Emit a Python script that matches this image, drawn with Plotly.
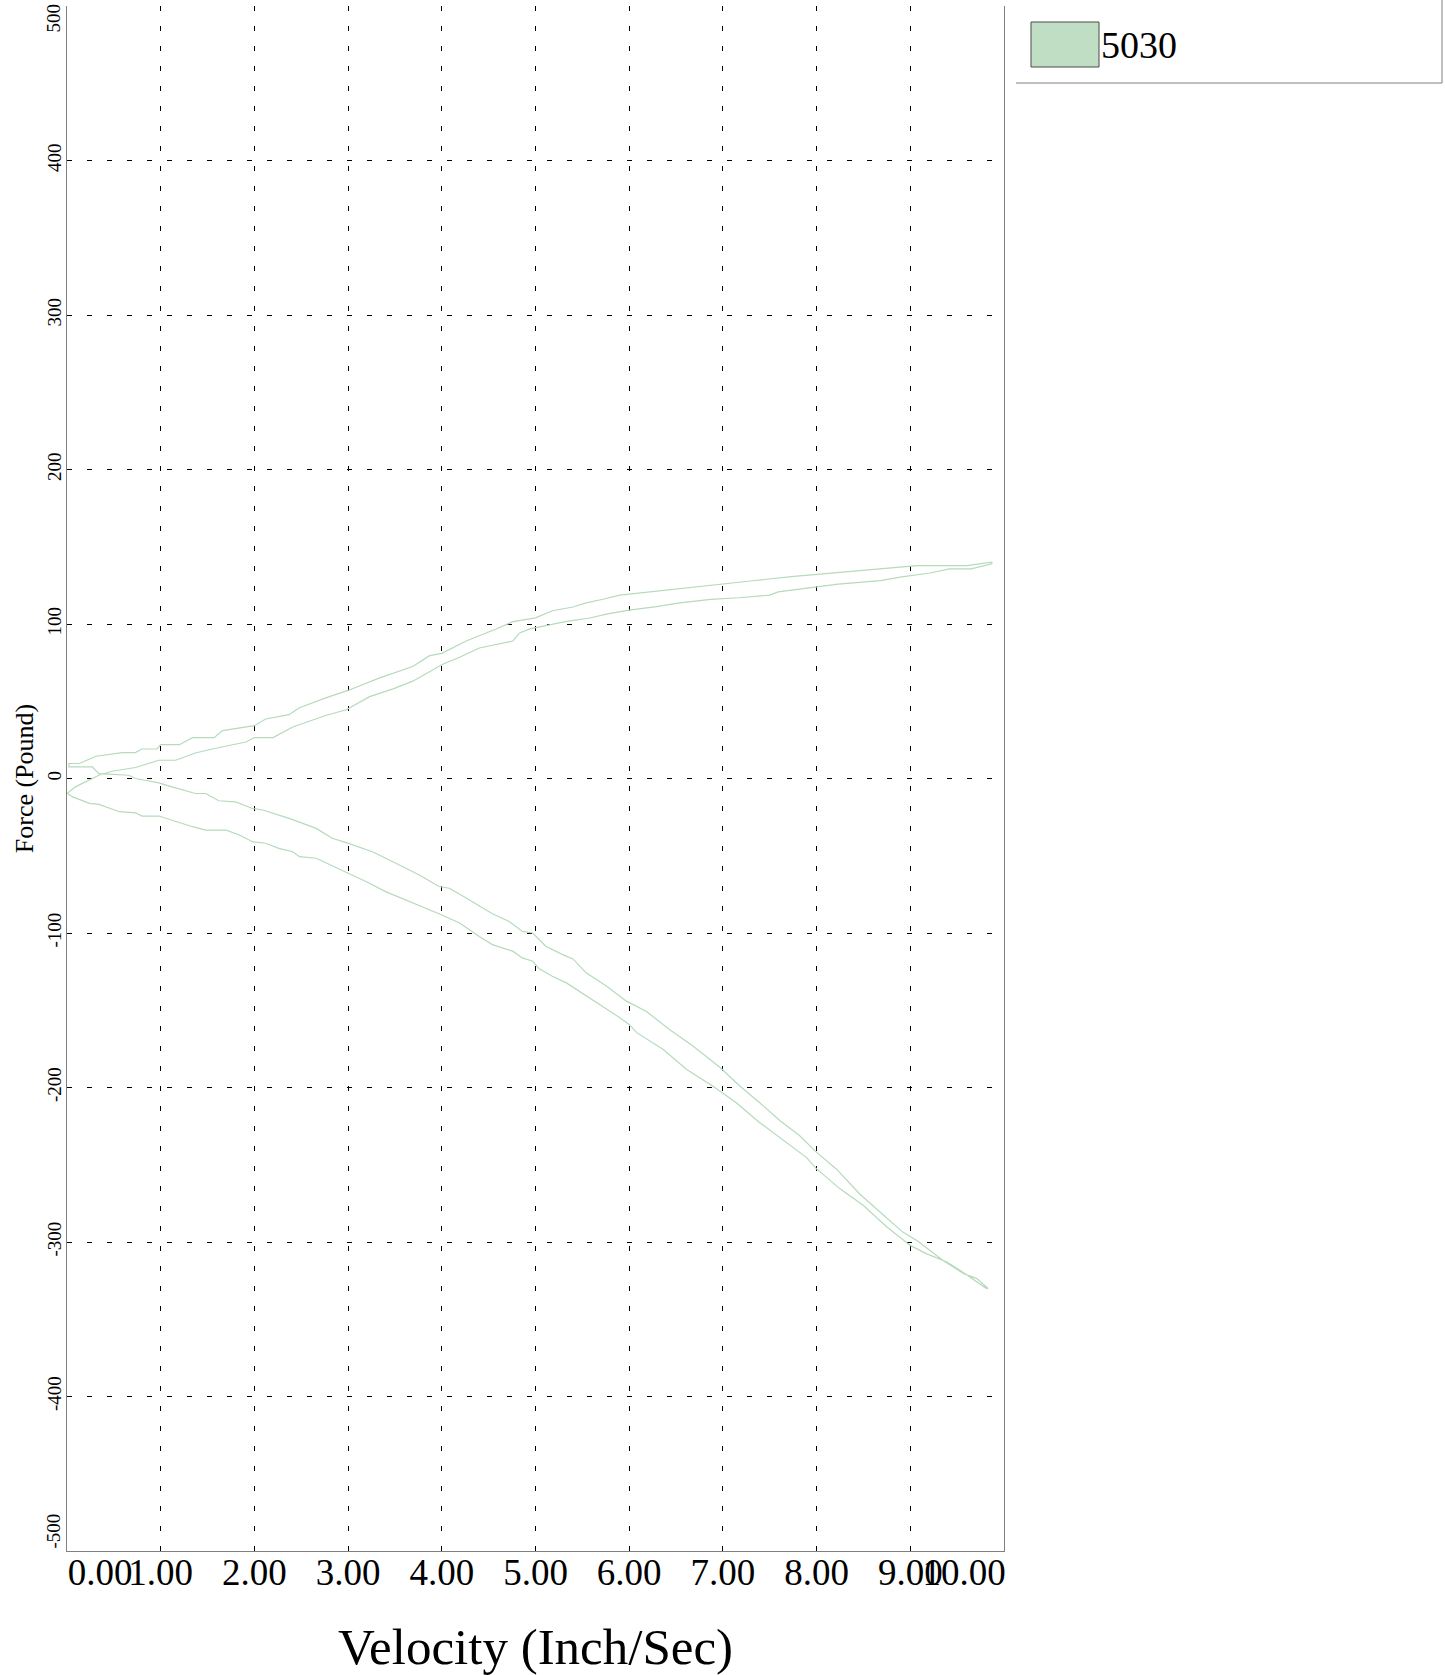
import plotly.graph_objects as go

# ---------------- data ----------------
series_name = "5030"

# compression loop, lower branch (velocity increasing)
comp_out_v = [0.0, 0.09, 0.34, 0.48, 0.73, 0.98, 1.16, 1.37, 1.55, 1.91, 2.0, 2.2, 2.41, 2.76, 2.98,
              3.23, 3.48, 3.69, 4.01, 4.19, 4.4, 4.76, 4.83, 4.94, 5.11, 5.33, 5.58, 5.77, 6.0, 6.29,
              6.54, 6.87, 7.17, 7.5, 7.59, 7.91, 8.23, 8.68, 8.91, 9.21, 9.42, 9.65, 9.87]
comp_out_f = [-9.7, -5.4, 2.1, 4.7, 7.1, 11.8, 11.8, 16.5, 19.1, 23.6, 26.5, 26.5, 33.3, 40.8, 44.5,
              53.0, 58.0, 63.0, 74.0, 78.5, 84.5, 89.0, 94.2, 96.8, 99.0, 101.7, 103.9, 106.5, 109.0, 111.2,
              113.7, 116.0, 117.0, 118.7, 120.8, 123.2, 125.8, 128.1, 130.5, 133.0, 135.7, 135.7, 139.0]

# compression loop, upper branch (velocity decreasing)
comp_back_v = [9.87, 9.6, 9.07, 8.57, 8.1, 7.73, 7.32, 7.0, 6.57, 6.25, 5.9, 5.72, 5.54, 5.4, 5.18,
               5.0, 4.76, 4.58, 4.26, 4.0, 3.87, 3.69, 3.33, 3.0, 2.8, 2.48, 2.37, 2.12, 2.0, 1.66,
               1.57, 1.34, 1.2, 1.0, 0.96, 0.8, 0.73, 0.59, 0.31, 0.13, 0.02]
comp_back_f = [140.0, 137.8, 137.8, 135.2, 132.9, 130.7, 128.0, 125.8, 123.2, 120.8, 118.7, 116.0, 113.7, 111.0, 108.6,
               104.0, 101.5, 96.8, 89.0, 81.0, 79.5, 72.5, 65.0, 57.0, 53.0, 45.8, 41.3, 38.5, 34.2, 31.0,
               26.4, 26.4, 21.9, 21.9, 19.1, 19.1, 16.8, 16.8, 14.4, 9.7, 9.7]

# rebound loop, upper branch (velocity increasing)
reb_out_v = [0.02, 0.27, 0.34, 0.66, 0.73, 0.98, 1.12, 1.37, 1.48, 1.62, 1.80, 1.98, 2.09, 2.37, 2.66,
             2.83, 2.98, 3.26, 3.58, 3.76, 3.97, 4.08, 4.26, 4.54, 4.72, 4.86, 4.97, 5.11, 5.29, 5.40,
             5.54, 5.76, 5.97, 6.18, 6.43, 6.68, 6.97, 7.18, 7.39, 7.61, 7.82, 8.0, 8.21, 8.46, 8.68,
             8.92, 9.07, 9.35, 9.57, 9.71, 9.83]
reb_out_f = [7.5, 7.5, 3.2, 2.1, 0.0, -2.8, -5.4, -9.7, -9.7, -14.4, -15.1, -19.4, -20.4, -25.8, -32.3,
             -38.7, -41.5, -47.4, -57.0, -62.4, -69.9, -71.0, -77.4, -87.5, -92.5, -99.0, -100.0, -108.6, -114.0, -116.8,
             -125.8, -134.5, -144.1, -150.6, -162.4, -173.2, -187.1, -199.0, -209.7, -221.5, -231.2, -242.0, -252.7, -268.9, -280.7,
             -293.6, -299.0, -311.9, -320.5, -323.7, -330.1]

# rebound loop, lower branch (velocity decreasing)
reb_back_v = [9.81, 9.53, 9.39, 9.17, 9.0, 8.75, 8.50, 8.25, 8.0, 7.89, 7.68, 7.39, 7.14, 6.89, 6.61,
              6.36, 6.08, 6.0, 5.90, 5.68, 5.47, 5.33, 5.18, 5.04, 4.97, 4.86, 4.76, 4.54, 4.40, 4.19,
              3.97, 3.83, 3.62, 3.40, 3.19, 2.98, 2.83, 2.66, 2.48, 2.41, 2.26, 2.12, 1.98, 1.84, 1.70,
              1.48, 1.34, 1.12, 0.98, 0.80, 0.73, 0.56, 0.34, 0.24, 0.06, 0.0]
reb_back_f = [-330.0, -318.3, -312.9, -307.5, -302.2, -290.3, -276.4, -265.6, -252.7, -245.2, -235.5, -222.6, -209.7, -199.0, -188.2,
              -175.3, -164.5, -159.2, -154.8, -146.3, -137.7, -132.3, -128.0, -123.2, -118.3, -116.1, -111.9, -107.5, -102.2, -93.5,
              -87.5, -83.9, -78.5, -73.2, -66.7, -60.9, -56.6, -51.6, -50.6, -47.4, -45.2, -41.9, -40.9, -36.6, -33.4,
              -33.4, -31.2, -26.9, -24.3, -24.3, -22.2, -21.5, -16.8, -16.1, -11.9, -9.5]

x_tick_vals = [1, 2, 3, 4, 5, 6, 7, 8, 9]
x_tick_text = ["1.00", "2.00", "3.00", "4.00", "5.00", "6.00", "7.00", "8.00", "9.00"]
x_first_val, x_first_text = 0, "0.00"
x_last_val, x_last_text = 10, "10.00"
y_tick_vals = [-400, -300, -200, -100, 0, 100, 200, 300, 400]
y_tick_text = ["-400", "-300", "-200", "-100", "0", "100", "200", "300", "400"]
y_top_val, y_top_text = 500, "500"
y_bot_val, y_bot_text = -500, "-500"

# ---------------- figure ----------------
W, H = 1445, 1675
PX0, PX1, PY0, PY1 = 67, 1004, 6, 1551
FONT = "Liberation Serif"
LINE_COLOR = "rgb(182,218,186)"
AXIS_COLOR = "#808080"


def pxx(X):
    return (X - PX0) / (PX1 - PX0)


def pxy(Y):
    return (PY1 - Y) / (PY1 - PY0)


vel = comp_out_v + comp_back_v + reb_out_v + reb_back_v
force = comp_out_f + comp_back_f + reb_out_f + reb_back_f

fig = go.Figure()
fig.add_trace(go.Scatter(x=vel, y=force, mode="lines", name=series_name,
                         line=dict(color=LINE_COLOR, width=1.2), showlegend=False,
                         xaxis="x", yaxis="y"))
# invisible carriers so that the overlaid edge-label axes get drawn
for xa, ya in [("x2", "y"), ("x3", "y"), ("x", "y2"), ("x", "y3")]:
    fig.add_trace(go.Scatter(x=vel, y=force, mode="none", showlegend=False, hoverinfo="skip",
                             xaxis=xa, yaxis=ya))

tickfont_x = dict(family=FONT, size=37, color="black")
tickfont_y = dict(family=FONT, size=19, color="black")
grid_common = dict(showgrid=True, gridcolor="black", gridwidth=1, griddash="5px,15px",
                   zeroline=False, ticks="", fixedrange=True)
XSTAND = -11
YSTAND = -3
XSTAND_EDGE = XSTAND + 7
YSTAND_EDGE = YSTAND + 5
edge_common = dict(showgrid=False, showline=False, zeroline=False, ticks="", fixedrange=True,
                   automargin=False, tickmode="array", ticklabeloverflow="allow")

fig.update_layout(
    width=W, height=H,
    margin=dict(l=PX0, r=W - PX1, t=PY0, b=H - PY1, pad=0, autoexpand=False),
    paper_bgcolor="white", plot_bgcolor="white",
    font=dict(family=FONT, color="black"),
    showlegend=False,
    xaxis=dict(range=[0, 10], tickmode="array", tickvals=x_tick_vals, ticktext=x_tick_text,
               tickfont=tickfont_x, showline=True, linecolor=AXIS_COLOR, linewidth=1, mirror=False,
               ticklabelstandoff=XSTAND,
               title=dict(text="Velocity (Inch/Sec)", font=dict(family=FONT, size=51, color="black"),
                          standoff=43),
               automargin=False, **grid_common),
    yaxis=dict(range=[-500, 500], tickmode="array", tickvals=y_tick_vals, ticktext=y_tick_text,
               tickfont=tickfont_y, tickangle=-90, showline=True, linecolor=AXIS_COLOR, linewidth=1,
               mirror=True, ticklabelstandoff=YSTAND,
               title=dict(text="Force (Pound)", font=dict(family=FONT, size=26, color="black"),
                          standoff=3),
               automargin=False, **grid_common),
    xaxis2=dict(range=[0, 10], overlaying="x", anchor="y", side="bottom",
                tickvals=[x_first_val], ticktext=[x_first_text], tickfont=tickfont_x,
                ticklabelshift=33, ticklabelstandoff=XSTAND_EDGE, **edge_common),
    xaxis3=dict(range=[0, 10], overlaying="x", anchor="y", side="bottom",
                tickvals=[x_last_val], ticktext=[x_last_text], tickfont=tickfont_x,
                ticklabelshift=-40, ticklabelstandoff=XSTAND_EDGE, **edge_common),
    yaxis2=dict(range=[-500, 500], overlaying="y", anchor="x", side="left",
                tickvals=[y_top_val], ticktext=[y_top_text], tickfont=tickfont_y, tickangle=-90,
                ticklabelshift=15, ticklabelstandoff=YSTAND_EDGE, **edge_common),
    yaxis3=dict(range=[-500, 500], overlaying="y", anchor="x", side="left",
                tickvals=[y_bot_val], ticktext=[y_bot_text], tickfont=tickfont_y, tickangle=-90,
                ticklabelshift=-17, ticklabelstandoff=YSTAND_EDGE, **edge_common),
)

# Legend drawn to match the reference's boxed swatch
fig.add_shape(type="line", xref="paper", yref="paper", x0=pxx(1016), x1=pxx(1442),
              y0=pxy(83), y1=pxy(83), line=dict(color=AXIS_COLOR, width=1))
fig.add_shape(type="line", xref="paper", yref="paper", x0=pxx(1442), x1=pxx(1442),
              y0=pxy(0), y1=pxy(83), line=dict(color=AXIS_COLOR, width=1))
fig.add_shape(type="rect", xref="paper", yref="paper", x0=pxx(1031), x1=pxx(1099),
              y0=pxy(67), y1=pxy(22), fillcolor="rgb(192,222,196)",
              line=dict(color="#4a4a4a", width=1))
fig.add_annotation(text=series_name, xref="paper", yref="paper", x=pxx(1099), y=pxy(45),
                   xanchor="left", yanchor="middle", showarrow=False,
                   font=dict(family=FONT, size=38, color="black"))

fig.write_html("out.html", config=dict(displayModeBar=False, staticPlot=True))
